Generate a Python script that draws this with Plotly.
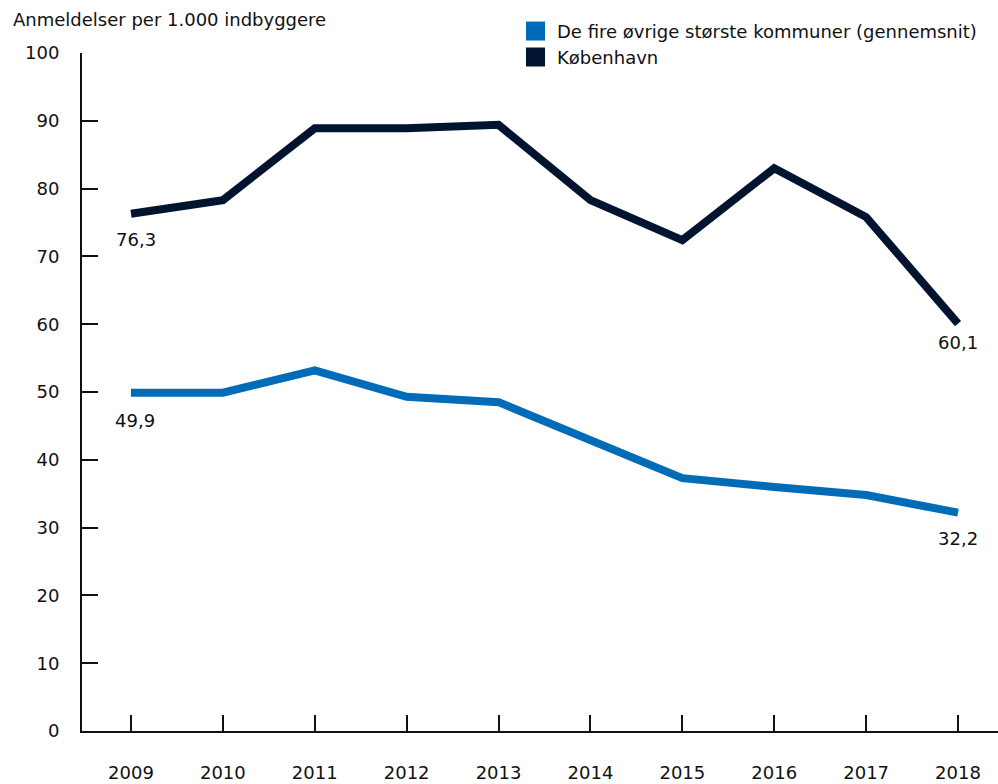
import plotly.graph_objects as go

years = [2009, 2010, 2011, 2012, 2013, 2014, 2015, 2016, 2017, 2018]
kbh = [76.3, 78.3, 88.9, 88.9, 89.4, 78.3, 72.4, 83.0, 75.8, 60.1]
others = [49.9, 49.9, 53.2, 49.3, 48.5, 42.8, 37.3, 36.0, 34.8, 32.2]
name_others = "De fire øvrige største kommuner (gennemsnit)"
name_kbh = "København"
y_title = "Anmeldelser per 1.000 indbyggere"

c_kbh = "#00132f"
c_oth = "#006cb7"
font = "DejaVu Sans"
fs = 18
tc = "#111111"

fig = go.Figure()
fig.add_trace(go.Scatter(x=years, y=others, mode="lines", line=dict(color=c_oth, width=8),
                         name=name_others, showlegend=False, hoverinfo="skip"))
fig.add_trace(go.Scatter(x=years, y=kbh, mode="lines", line=dict(color=c_kbh, width=8),
                         name=name_kbh, showlegend=False, hoverinfo="skip"))

def fmt(v):
    return f"{v:.1f}".replace(".", ",")

# end-point value labels: (series, index, xshift, yshift)
label_spec = [(kbh, 0, 5, -26), (kbh, len(years) - 1, 0, -19),
              (others, 0, 4, -28), (others, len(years) - 1, 0, -26)]
for series, i, xs, ys in label_spec:
    fig.add_annotation(x=years[i], y=series[i], text=fmt(series[i]), showarrow=False,
                       xshift=xs, yshift=ys, font=dict(size=fs, color=tc, family=font))

# axis title
fig.add_annotation(xref="paper", yref="paper", x=-0.0775, y=1.0487, xanchor="left", yanchor="middle",
                   text=y_title, showarrow=False, font=dict(size=fs, color=tc, family=font))

# legend (squares + labels)
legend_items = [(name_others, c_oth, 1.0324), (name_kbh, c_kbh, 0.9941)]
for label, col, yc in legend_items:
    fig.add_shape(type="rect", xref="paper", yref="paper", x0=0.4847, x1=0.5055,
                  y0=yc - 0.014, y1=yc + 0.014, fillcolor=col, line=dict(width=0))
    fig.add_annotation(xref="paper", yref="paper", x=0.5165, y=yc, xanchor="left", yanchor="middle",
                       text=label, showarrow=False, font=dict(size=fs, color=tc, family=font))

fig.update_layout(
    width=998, height=784,
    margin=dict(l=82, r=0, t=53, b=53, autoexpand=False),
    paper_bgcolor="white", plot_bgcolor="white",
    font=dict(family=font, size=fs, color=tc),
    showlegend=False,
    xaxis=dict(range=[2008.467, 2018.435], tickmode="array", tickvals=years,
               ticktext=[str(y) for y in years], ticks="inside", ticklen=16, tickwidth=2,
               tickcolor=tc, showline=True, linecolor=tc, linewidth=2,
               showgrid=False, zeroline=False, ticklabelstandoff=24, fixedrange=True,
               automargin=False),
    yaxis=dict(range=[0, 100], tickmode="array", tickvals=list(range(0, 101, 10)),
               ticks="inside", ticklen=16, tickwidth=2, tickcolor=tc,
               showline=True, linecolor=tc, linewidth=2, showgrid=False, zeroline=False,
               ticklabelstandoff=17, fixedrange=True, automargin=False),
)

fig.write_html("out.html", config={"displayModeBar": False},
               post_script="document.body.style.margin='0px';document.body.style.overflow='hidden';")
